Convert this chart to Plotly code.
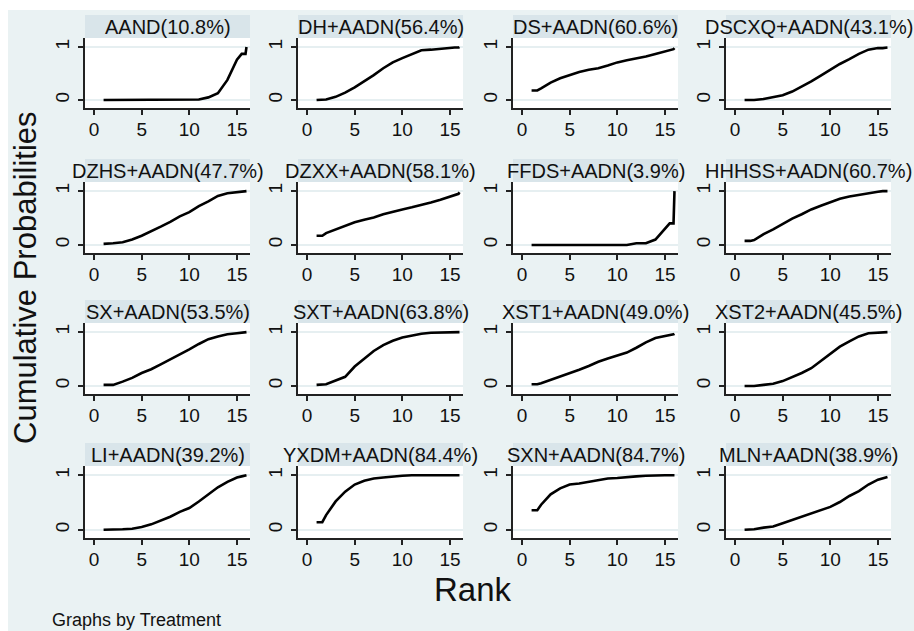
import plotly.graph_objects as go

W, H = 914, 631

# ---- data -------------------------------------------------------------
RANKS = [1, 1.6, 2, 3, 4, 5, 6, 7, 8, 9, 10, 11, 12, 13, 14, 15, 15.5, 15.9, 16]

TREATMENTS = ["AAND", "DH+AADN", "DS+AADN", "DSCXQ+AADN",
              "DZHS+AADN", "DZXX+AADN", "FFDS+AADN", "HHHSS+AADN",
              "SX+AADN", "SXT+AADN", "XST1+AADN", "XST2+AADN",
              "LI+AADN", "YXDM+AADN", "SXN+AADN", "MLN+AADN"]
SUCRA = ["10.8%", "56.4%", "60.6%", "43.1%",
         "47.7%", "58.1%", "3.9%", "60.7%",
         "53.5%", "63.8%", "49.0%", "45.5%",
         "39.2%", "84.4%", "84.7%", "38.9%"]

P_AAND = [0, 0, 0, 0, 0, 0, 0, 0, 0, 0, 0, 0.01, 0.05, 0.13, 0.38, 0.76, 0.87, 0.87, 1.0]
P_DH = [0, 0, 0.01, 0.06, 0.14, 0.24, 0.35, 0.47, 0.6, 0.71, 0.79, 0.87, 0.94, 0.95, 0.97, 0.98, 0.99, 0.99, 1.0]
P_DS = [0.18, 0.18, 0.22, 0.33, 0.41, 0.47, 0.53, 0.57, 0.6, 0.65, 0.71, 0.75, 0.78, 0.82, 0.87, 0.92, 0.94, 0.96, 0.98]
P_DSCXQ = [0, 0, 0, 0.02, 0.05, 0.09, 0.16, 0.25, 0.35, 0.46, 0.57, 0.68, 0.77, 0.87, 0.95, 0.98, 0.98, 0.99, 0.99]
P_DZHS = [0.02, 0.02, 0.03, 0.05, 0.1, 0.17, 0.25, 0.34, 0.43, 0.53, 0.61, 0.72, 0.81, 0.91, 0.96, 0.98, 0.99, 0.99, 1.0]
P_DZXX = [0.17, 0.17, 0.22, 0.29, 0.36, 0.42, 0.47, 0.51, 0.57, 0.62, 0.66, 0.7, 0.74, 0.79, 0.84, 0.9, 0.92, 0.95, 0.98]
P_FFDS = [0, 0, 0, 0, 0, 0, 0, 0, 0, 0, 0, 0, 0.03, 0.03, 0.1, 0.29, 0.4, 0.4, 1.0]
P_HHHSS = [0.075, 0.075, 0.09, 0.2, 0.29, 0.39, 0.49, 0.57, 0.66, 0.73, 0.79, 0.86, 0.9, 0.93, 0.97, 0.99, 1.0, 1.0, 1.0]
P_SX = [0.02, 0.02, 0.02, 0.08, 0.15, 0.24, 0.31, 0.4, 0.49, 0.59, 0.68, 0.78, 0.87, 0.92, 0.96, 0.98, 0.99, 0.99, 1.0]
P_SXT = [0.02, 0.02, 0.03, 0.1, 0.17, 0.36, 0.5, 0.65, 0.76, 0.84, 0.9, 0.94, 0.97, 0.99, 0.99, 1.0, 1.0, 1.0, 1.0]
P_XST1 = [0.03, 0.03, 0.05, 0.11, 0.17, 0.24, 0.3, 0.37, 0.45, 0.51, 0.57, 0.62, 0.71, 0.81, 0.89, 0.92, 0.94, 0.96, 0.97]
P_XST2 = [0, 0, 0, 0.02, 0.04, 0.09, 0.16, 0.24, 0.33, 0.46, 0.6, 0.73, 0.83, 0.92, 0.98, 0.99, 0.99, 1.0, 1.0]
P_LI = [0, 0, 0, 0.01, 0.02, 0.05, 0.1, 0.17, 0.24, 0.33, 0.4, 0.52, 0.65, 0.78, 0.88, 0.96, 0.98, 0.99, 1.0]
P_YXDM = [0.14, 0.14, 0.27, 0.52, 0.7, 0.83, 0.9, 0.94, 0.96, 0.98, 0.99, 1, 1, 1, 1, 1, 1, 1, 1]
P_SXN = [0.36, 0.36, 0.46, 0.65, 0.76, 0.83, 0.85, 0.88, 0.92, 0.94, 0.95, 0.97, 0.98, 0.99, 1, 1, 1, 1, 1]
P_MLN = [0, 0, 0.01, 0.04, 0.06, 0.12, 0.18, 0.23, 0.29, 0.35, 0.42, 0.51, 0.62, 0.71, 0.83, 0.92, 0.94, 0.96, 0.97]

SERIES = [P_AAND, P_DH, P_DS, P_DSCXQ, P_DZHS, P_DZXX, P_FFDS, P_HHHSS,
          P_SX, P_SXT, P_XST1, P_XST2, P_LI, P_YXDM, P_SXN, P_MLN]

X_TICKS = [0, 5, 10, 15]
Y_TICKS = [0, 1]

# ---- layout geometry (pixels) ----------------------------------------
COL_X = [(85, 250), (298, 463), (513, 678), (726, 891)]
ROW_Y = [(38, 108), (182, 253), (323, 394), (466, 538)]
TITLE_H = 23

BG = "#EAF2F3"
BOX = "#D9E5EA"
INK = "#111111"
FONT = "Liberation Sans, Arial, sans-serif"

fig = go.Figure()
layout = dict(
    width=W, height=H,
    margin=dict(l=0, r=0, t=0, b=0),
    paper_bgcolor=BG, plot_bgcolor="white",
    showlegend=False,
    font=dict(family=FONT, color=INK),
)
shapes = []
annotations = []

for i, vals in enumerate(SERIES):
    r, c = divmod(i, 4)
    n = i + 1
    sfx = "" if n == 1 else str(n)
    x0, x1 = COL_X[c]
    y0, y1 = ROW_Y[r]
    fig.add_trace(go.Scatter(
        x=RANKS, y=vals, mode="lines",
        line=dict(color="black", width=2.6),
        xaxis="x" + sfx, yaxis="y" + sfx, hoverinfo="skip"))
    layout["xaxis" + sfx] = dict(
        domain=[x0 / W, x1 / W], anchor="y" + sfx,
        range=[-0.95, 16.37], tickvals=X_TICKS, ticks="outside",
        ticklen=5, tickwidth=1.5, tickcolor="#222",
        showline=True, linecolor="#222", linewidth=1.5,
        showgrid=False, zeroline=False, fixedrange=True,
        tickfont=dict(size=19, family=FONT, color=INK),
        ticklabelstandoff=-2, automargin=False)
    layout["yaxis" + sfx] = dict(
        domain=[1 - y1 / H, 1 - y0 / H], anchor="x" + sfx,
        range=[-0.15, 1.17], tickvals=Y_TICKS, ticks="outside",
        ticklen=5, tickwidth=1.5, tickcolor="#222",
        showline=True, linecolor="#222", linewidth=1.5,
        showgrid=True, gridcolor="#E6EFF1", gridwidth=1.5,
        zeroline=False, fixedrange=True, tickangle=-90,
        tickfont=dict(size=19, family=FONT, color=INK),
        ticklabelstandoff=2, automargin=False)
    # title box
    shapes.append(dict(type="rect", xref="paper", yref="paper",
                       x0=x0 / W, x1=x1 / W,
                       y0=1 - y0 / H, y1=1 - (y0 - TITLE_H) / H,
                       fillcolor=BOX, line=dict(width=0), layer="below"))
    annotations.append(dict(
        xref="paper", yref="paper",
        x=(x0 + x1) / 2 / W, y=1 - (y0 - TITLE_H / 2) / H,
        xanchor="center", yanchor="middle", showarrow=False,
        text=f"{TREATMENTS[i]}({SUCRA[i]})",
        font=dict(size=20, family=FONT, color=INK)))

# white strips at top and left edge
shapes.append(dict(type="rect", xref="paper", yref="paper", x0=0, x1=8 / W,
                   y0=0, y1=1, fillcolor="white", line=dict(width=0), layer="above"))
shapes.append(dict(type="rect", xref="paper", yref="paper", x0=0, x1=1,
                   y0=1 - 10 / H, y1=1, fillcolor="white", line=dict(width=0), layer="above"))

annotations.append(dict(xref="paper", yref="paper", x=25 / W, y=1 - 278 / H,
                        xanchor="center", yanchor="middle", showarrow=False,
                        textangle=-90, text="Cumulative Probabilities",
                        font=dict(size=31, family=FONT, color=INK)))
annotations.append(dict(xref="paper", yref="paper", x=473 / W, y=1 - 589 / H,
                        xanchor="center", yanchor="middle", showarrow=False,
                        text="Rank", font=dict(size=33, family=FONT, color=INK)))
annotations.append(dict(xref="paper", yref="paper", x=50 / W, y=1 - 620 / H,
                        xanchor="left", yanchor="middle", showarrow=False,
                        text="Graphs by Treatment",
                        font=dict(size=18, family=FONT, color=INK)))

layout["shapes"] = shapes
layout["annotations"] = annotations
fig.update_layout(**layout)
fig.write_html("out.html", include_plotlyjs=True, config={"displayModeBar": False})
